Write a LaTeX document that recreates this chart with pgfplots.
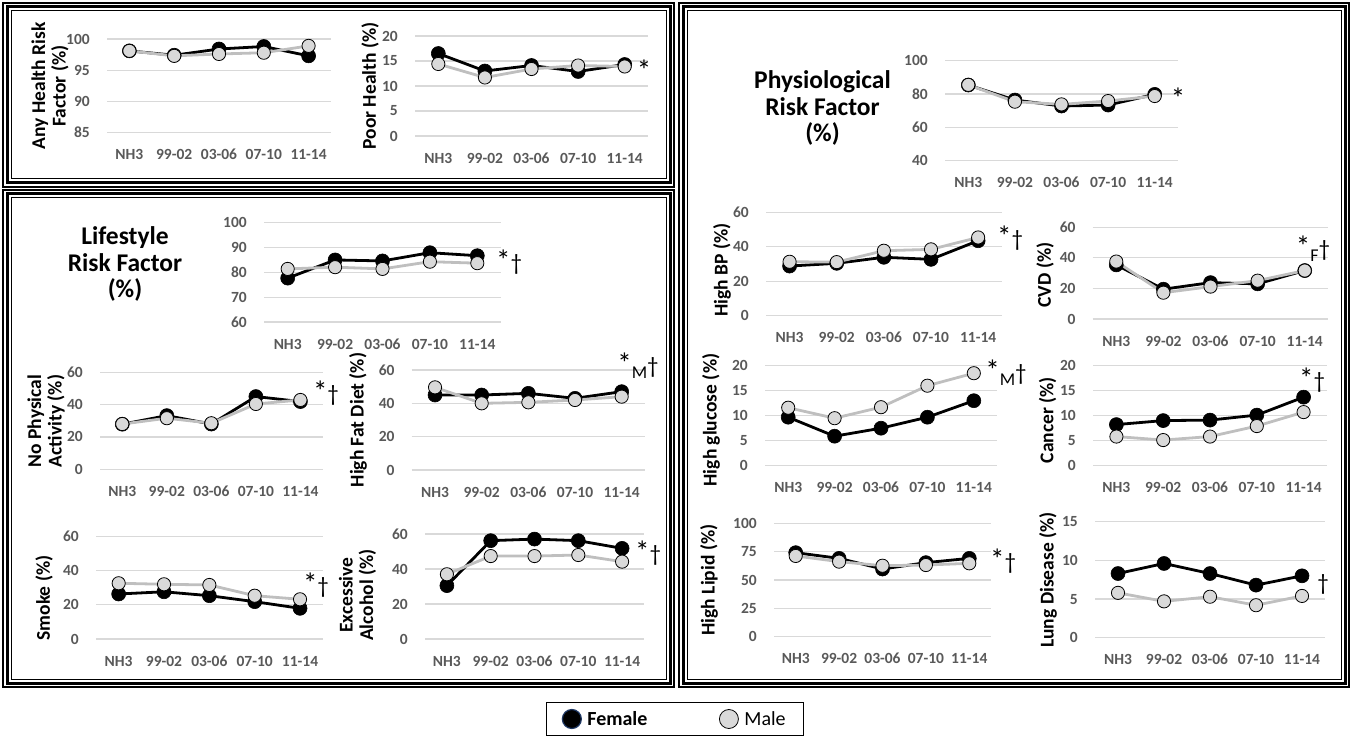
\documentclass[border=0pt]{standalone}
\usepackage{fontspec}
\setmainfont{Carlito}
\usepackage{pgfplots}
\pgfplotsset{compat=1.18}
\definecolor{gridgray}{RGB}{217,217,217}
\definecolor{tickgray}{RGB}{89,89,89}
\definecolor{maleline}{RGB}{191,191,191}
\definecolor{malefill}{RGB}{217,217,217}
\definecolor{femedge}{RGB}{31,56,100}

\pgfplotsset{
  panel/.style={
    scale only axis, anchor=south west, clip=false,
    axis line style={draw=none}, major tick length=0pt,
    xmin=-0.5, xmax=4.5, xtick={0,1,2,3,4},
    xticklabels={NH3,99-02,03-06,07-10,11-14},
    ymajorgrids, grid style={gridgray, line width=1.1pt},
    tick label style={font=\fontsize{15.5}{16}\selectfont\bfseries, text=tickgray, inner sep=0pt},
    xticklabel style={anchor=center, yshift=-22pt},
    yticklabel style={anchor=east, xshift=-17pt},
    /pgf/number format/assume math mode=true,
  },
  fem/.style={black, line width=2.8pt, mark=*, mark size=7pt,
    mark options={fill=black, draw=black, line width=0.6pt}},
  mal/.style={maleline, line width=2.8pt, mark=*, mark size=6.6pt,
    mark options={fill=malefill, draw=black, line width=0.8pt}},
}
% frame: x1 y1 x2 y2 in pixels from the top left
\newcommand\frm[4]{%
  \draw[line width=1.2pt] (#1,740-#2) rectangle (#3,740-#4);
  \draw[line width=3pt] (#1+4,740-#2-4) rectangle (#3-4,740-#4+4);
  \draw[line width=1pt] (#1+8,740-#2-8) rectangle (#3-8,740-#4+8);}
\newcommand\ylab[3]{\node[rotate=90, font=\fontsize{19.5}{20.5}\selectfont\bfseries, align=center] at (#1,740-#2) {#3};}
\newcommand\sig[3]{\node[font=\fontsize{23}{23}\selectfont, inner sep=0pt] at (#1,740-#2) {#3};}
\newcommand\st{{\fontsize{29}{29}\selectfont *}}
\newcommand\sub[1]{\raisebox{-5pt}{\fontsize{18}{18}\selectfont #1}}

\begin{document}
\begin{tikzpicture}[x=1pt,y=1pt]
\useasboundingbox (0,0) rectangle (1351,740);
\frm{3}{3}{674}{187}
\frm{3}{190}{674}{687}
\frm{679}{3}{1349}{687}

% Any health risk factor
\begin{axis}[panel, at={(107pt,607.3pt)}, width=224pt, height=93.7pt,
  ymin=85, ymax=100, ytick={85,90,95,100}]
\addplot[fem] coordinates {(0,98.1)(1,97.4)(2,98.4)(3,98.8)(4,97.3)};
\addplot[mal] coordinates {(0,98.1)(1,97.3)(2,97.6)(3,97.8)(4,98.9)};
\end{axis}
\ylab{50}{86}{Any Health Risk\\Factor (\%)}

% Poor health
\begin{axis}[panel, at={(415pt,604pt)}, width=233pt, height=100pt,
  ymin=0, ymax=20, ytick={0,5,10,15,20}]
\addplot[fem] coordinates {(0,16.5)(1,13.0)(2,14.1)(3,12.9)(4,14.3)};
\addplot[mal] coordinates {(0,14.4)(1,11.7)(2,13.4)(3,14.1)(4,13.9)};
\end{axis}
\ylab{370}{86}{Poor Health (\%)}
\sig{644}{70}{\st}

% Lifestyle
\begin{axis}[panel, at={(264pt,418pt)}, width=237pt, height=99.7pt,
  ymin=60, ymax=100, ytick={60,70,80,90,100}]
\addplot[fem] coordinates {(0,77.6)(1,84.9)(2,84.5)(3,87.8)(4,86.6)};
\addplot[mal] coordinates {(0,81.3)(1,82.0)(2,81.3)(3,84.2)(4,83.6)};
\end{axis}
\node[align=center, font=\fontsize{25.5}{26.5}\selectfont\bfseries] at (125,740-264) {Lifestyle\\Risk Factor\\(\%)};
\sig{509}{262}{\st†}

% No physical activity
\begin{axis}[panel, at={(100pt,270.7pt)}, width=222.7pt, height=97pt,
  ymin=0, ymax=60, ytick={0,20,40,60}]
\addplot[fem] coordinates {(0,27.9)(1,33.2)(2,28.0)(3,45.0)(4,41.9)};
\addplot[mal] coordinates {(0,28.0)(1,31.6)(2,28.5)(3,40.4)(4,42.9)};
\end{axis}
\ylab{46}{421}{No Physical\\Activity (\%)}
\sig{326}{393}{\st†}

% High fat diet
\begin{axis}[panel, at={(411.7pt,270pt)}, width=233.3pt, height=100pt,
  ymin=0, ymax=60, ytick={0,20,40,60}]
\addplot[fem] coordinates {(0,45.0)(1,45.0)(2,46.0)(3,43.0)(4,47.0)};
\addplot[mal] coordinates {(0,49.6)(1,40.0)(2,40.6)(3,42.0)(4,44.0)};
\end{axis}
\ylab{358}{420}{High Fat Diet (\%)}
\sig{638}{366}{\st\sub{M}†}

% Smoke
\begin{axis}[panel, at={(96pt,101pt)}, width=226.7pt, height=102.3pt,
  ymin=0, ymax=60, ytick={0,20,40,60}]
\addplot[fem] coordinates {(0,26.4)(1,27.7)(2,25.4)(3,21.9)(4,18.0)};
\addplot[mal] coordinates {(0,32.7)(1,32.1)(2,31.7)(3,25.4)(4,23.3)};
\end{axis}
\ylab{44}{598}{Smoke (\%)}
\sig{316}{585}{\st†}

% Excessive alcohol
\begin{axis}[panel, at={(425pt,101pt)}, width=219pt, height=105pt,
  ymin=0, ymax=60, ytick={0,20,40,60}]
\addplot[fem] coordinates {(0,30.5)(1,56.2)(2,57.1)(3,56.2)(4,51.8)};
\addplot[mal] coordinates {(0,37.0)(1,47.4)(2,47.4)(3,48.0)(4,44.2)};
\end{axis}
\ylab{357.5}{595}{Excessive\\Alcohol (\%)}
\sig{648}{553}{\st†}

% Physiological
\begin{axis}[panel, at={(945pt,579.3pt)}, width=233pt, height=100pt,
  ymin=40, ymax=100, ytick={40,60,80,100}]
\addplot[fem] coordinates {(0,85.4)(1,76.4)(2,72.8)(3,73.4)(4,79.8)};
\addplot[mal] coordinates {(0,85.5)(1,75.4)(2,73.8)(3,75.8)(4,78.8)};
\end{axis}
\node[align=center, font=\fontsize{25.5}{26.5}\selectfont\bfseries] at (822.5,740-108) {Physiological\\Risk Factor\\(\%)};
\sig{1178}{98}{\st}

% High BP
\begin{axis}[panel, at={(766pt,424.3pt)}, width=235.7pt, height=103.4pt,
  ymin=0, ymax=60, ytick={0,20,40,60}]
\addplot[fem] coordinates {(0,28.8)(1,30.4)(2,33.9)(3,32.7)(4,43.5)};
\addplot[mal] coordinates {(0,31.3)(1,31.1)(2,37.7)(3,38.5)(4,45.4)};
\end{axis}
\ylab{722}{270}{High BP (\%)}
\sig{1010}{238}{\st†}

% CVD
\begin{axis}[panel, at={(1092.7pt,421pt)}, width=235.6pt, height=91.7pt,
  ymin=0, ymax=60, ytick={0,20,40,60}]
\addplot[fem] coordinates {(0,35.4)(1,19.5)(2,23.8)(3,23.0)(4,31.7)};
\addplot[mal] coordinates {(0,37.6)(1,17.2)(2,21.2)(3,25.1)(4,31.7)};
\end{axis}
\ylab{1045}{275}{CVD (\%)}
\sig{1313}{249}{\st\sub{F}†}

% High glucose
\begin{axis}[panel, at={(765pt,274.3pt)}, width=232pt, height=100pt,
  ymin=0, ymax=20, ytick={0,5,10,15,20}]
\addplot[fem] coordinates {(0,9.7)(1,5.9)(2,7.5)(3,9.7)(4,13.0)};
\addplot[mal] coordinates {(0,11.6)(1,9.5)(2,11.7)(3,16.0)(4,18.5)};
\end{axis}
\ylab{711}{420}{High glucose (\%)}
\sig{1006}{373}{\st\sub{M}†}

% Cancer
\begin{axis}[panel, at={(1093pt,274.5pt)}, width=234pt, height=99.8pt,
  ymin=0, ymax=20, ytick={0,5,10,15,20}]
\addplot[fem] coordinates {(0,8.2)(1,9.0)(2,9.1)(3,10.1)(4,13.7)};
\addplot[mal] coordinates {(0,5.8)(1,5.1)(2,5.8)(3,7.9)(4,10.7)};
\end{axis}
\ylab{1047.5}{420}{Cancer (\%)}
\sig{1312}{380}{\st†}

% High lipid
\begin{axis}[panel, at={(774pt,103.3pt)}, width=217pt, height=113.4pt,
  ymin=0, ymax=100, ytick={0,25,50,75,100}]
\addplot[fem] coordinates {(0,74.1)(1,69.1)(2,59.7)(3,65.3)(4,69.1)};
\addplot[mal] coordinates {(0,71.2)(1,66.2)(2,62.6)(3,63.2)(4,64.7)};
\end{axis}
\ylab{709}{580}{High Lipid (\%)}
\sig{1003}{561}{\st†}

% Lung disease
\begin{axis}[panel, at={(1095pt,102.3pt)}, width=230pt, height=116pt,
  ymin=0, ymax=15, ytick={0,5,10,15}]
\addplot[fem] coordinates {(0,8.3)(1,9.6)(2,8.3)(3,6.8)(4,8.0)};
\addplot[mal] coordinates {(0,5.8)(1,4.7)(2,5.3)(3,4.2)(4,5.4)};
\end{axis}
\ylab{1048}{580}{Lung Disease (\%)}
\sig{1323}{584}{†}

% legend
\begin{axis}[at={(675pt,21pt)}, anchor=center, hide axis, scale only axis,
  width=10pt, height=10pt, xmin=0, xmax=1, ymin=0, ymax=1,
  legend columns=2,
  legend style={at={(0.5,0.5)}, anchor=center, draw=black, line width=1pt,
    font=\fontsize{20}{20}\selectfont, inner xsep=16pt, inner ysep=7pt,
    /tikz/every even column/.append style={column sep=70pt}}]
\addlegendimage{only marks, mark=*, mark size=9.5pt, mark options={fill=black, draw=femedge, line width=1.2pt}}
\addlegendentry{\hspace{4pt}\textbf{Female}}
\addlegendimage{only marks, mark=*, mark size=9.5pt, mark options={fill=malefill, draw=black, line width=0.8pt}}
\addlegendentry{\hspace{4pt}Male\hspace{52pt}}
\end{axis}
\end{tikzpicture}
\end{document}
